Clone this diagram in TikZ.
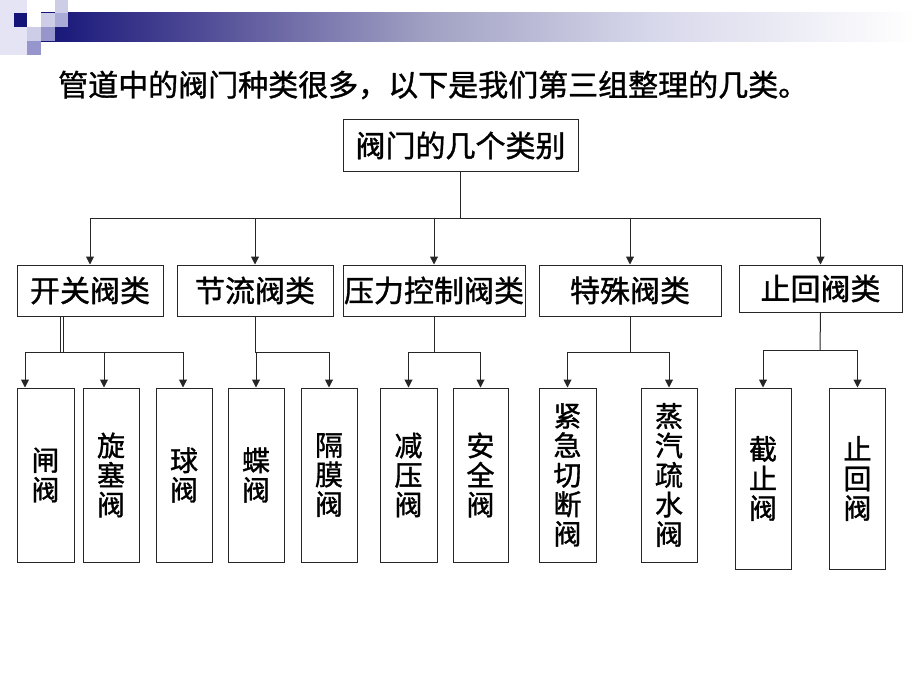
\documentclass[tikz,border=0pt]{standalone}
\usepackage{fontspec}
\setmainfont{Noto Sans CJK SC}[FakeBold=1.2]
\usetikzlibrary{arrows.meta,calc}

\definecolor{navy}{RGB}{20,20,120}
\definecolor{barA}{RGB}{80,75,150}
\definecolor{barB}{RGB}{160,160,195}
\definecolor{barC}{RGB}{215,215,235}
\definecolor{sqlight}{RGB}{205,205,232}
\definecolor{sqmid}{RGB}{150,150,205}
\definecolor{sqfaint}{RGB}{228,228,245}

\begin{document}
\begin{tikzpicture}[x=1pt,y=1pt,yscale=-1,xscale=1,
    box/.style={draw=black!85,line width=1pt,inner sep=0pt,align=center},
    catbox/.style={box,minimum height=51pt,font=\fontsize{30}{32}\selectfont},
    valvebox/.style={box,minimum width=56pt,minimum height=174pt,font=\fontsize{28}{29.5}\selectfont},
    link/.style={line width=1pt,black!85},
    arr/.style={link,-{Triangle[length=8pt,width=8pt]}}]
    \useasboundingbox (0,0) rectangle (920,690);

    %Shape: top bar
    \fill[left color=navy,right color=barA,draw=none] (41,13) rectangle (201,42);
    \fill[left color=barA,right color=barB,draw=none] (200,13) rectangle (426,42);
    \fill[left color=barB,right color=barC,draw=none] (425,13) rectangle (651,42);
    \fill[left color=barC,right color=white,draw=none] (650,13) rectangle (915,42);
    %Shape: squares
    \fill[sqfaint] (0,0) rectangle (27,55);
    \fill[navy] (13.5,13.5) rectangle (27,27);
    \fill[sqlight] (27,27) rectangle (41,41);
    \fill[sqmid] (27,41) rectangle (41,55);
    \fill[sqlight] (41,13) rectangle (55,27);
    \fill[sqmid] (41,27) rectangle (55,41);
    \fill[sqlight] (55,0) rectangle (68,13);
    \fill[sqmid!80!white] (55,13) rectangle (68,27);

    % Text Node
    \node[anchor=west,inner sep=0pt,font=\fontsize{30}{32}\selectfont] (title) at (58,85) {管道中的阀门种类很多，以下是我们第三组整理的几类。};

    % root
    \node[catbox,minimum width=235pt] (root) at (460.5,145.5) {阀门的几个类别};

    % categories
    \node[catbox,minimum width=146pt] (kaiguan) at (90,290.5) {开关阀类};
    \node[catbox,minimum width=156pt] (jieliu) at (255,290.5) {节流阀类};
    \node[catbox,minimum width=182pt] (yali) at (434,290.5) {压力控制阀类};
    \node[catbox,minimum width=182pt] (teshu) at (630,290.5) {特殊阀类};
    \node[catbox,minimum width=163pt,minimum height=47pt] (zhihui) at (820.5,288.5) {止回阀类};

    % valves
    \node[valvebox,minimum width=57pt] (zha) at (45.5,475) {闸\\阀};
    \node[valvebox] (xuansai) at (111,475) {旋\\塞\\阀};
    \node[valvebox] (qiu) at (184,475) {球\\阀};
    \node[valvebox] (die) at (256,475) {蝶\\阀};
    \node[valvebox] (gemo) at (329,475) {隔\\膜\\阀};
    \node[valvebox,minimum width=57pt] (jianya) at (408.5,475) {减\\压\\阀};
    \node[valvebox,minimum width=55pt] (anquan) at (480.5,475) {安\\全\\阀};
    \node[valvebox,minimum width=57pt] (jinji) at (567.5,475) {紧\\急\\切\\断\\阀};
    \node[valvebox] (zhengqi) at (669,475) {蒸\\汽\\疏\\水\\阀};
    \node[valvebox,minimum height=181pt] (jiezhi) at (763,478.5) {截\\止\\阀};
    \node[valvebox,minimum height=181pt] (zhihuifa) at (857.5,478.5) {止\\回\\阀};

    % level 1
    \coordinate (busL) at (90,218);
    \coordinate (busR) at (820,218);
    \draw[link] (root.south) -- (root.south |- busL);
    \draw[link] (busL) -- (busR);
    \draw[arr] (kaiguan.north |- busL) -- (kaiguan.north);
    \draw[arr] (jieliu.north |- busL) -- (jieliu.north);
    \draw[arr] (yali.north |- busL) -- (yali.north);
    \draw[arr] (teshu.north |- busL) -- (teshu.north);
    \draw[arr] (zhihui.north |- busL) -- (zhihui.north);

    % level 2
    \coordinate (kgtap) at ($(kaiguan.south)+(-28,0)$);
    \coordinate (kgA) at (25,352);
    \coordinate (kgB) at (104,352);
    \coordinate (kgC) at (183,352);
    \draw[link,double,double distance=1.5pt,line width=0.8pt] (kgtap) -- (kgtap |- kgA);
    \draw[link] (kgA) -- (kgC);
    \draw[arr] (kgA) -- (kgA |- zha.north);
    \draw[arr] (kgB) -- (kgB |- xuansai.north);
    \draw[arr] (kgC) -- (kgC |- qiu.north);

    \draw[link] (jieliu.south) -- (jieliu.south |- kgA);
    \draw[arr] (die.north |- kgA) -- (die.north);
    \draw[arr] (jieliu.south |- kgA) -| (gemo.north);

    \draw[link] (yali.south) -- (yali.south |- kgA);
    \draw[arr] (jianya.north |- kgA) -- (jianya.north);
    \draw[arr] (jianya.north |- kgA) -| (anquan.north);

    \draw[link] (teshu.south) -- (teshu.south |- kgA);
    \draw[arr] (jinji.north |- kgA) -- (jinji.north);
    \draw[arr] (jinji.north |- kgA) -| (zhengqi.north);

    \coordinate (zhbus) at (820,350);
    \draw[link] (zhihui.south) -- (zhbus);
    \draw[arr] (jiezhi.north |- zhbus) -- (jiezhi.north);
    \draw[arr] (jiezhi.north |- zhbus) -| (zhihuifa.north);
\end{tikzpicture}
\end{document}
